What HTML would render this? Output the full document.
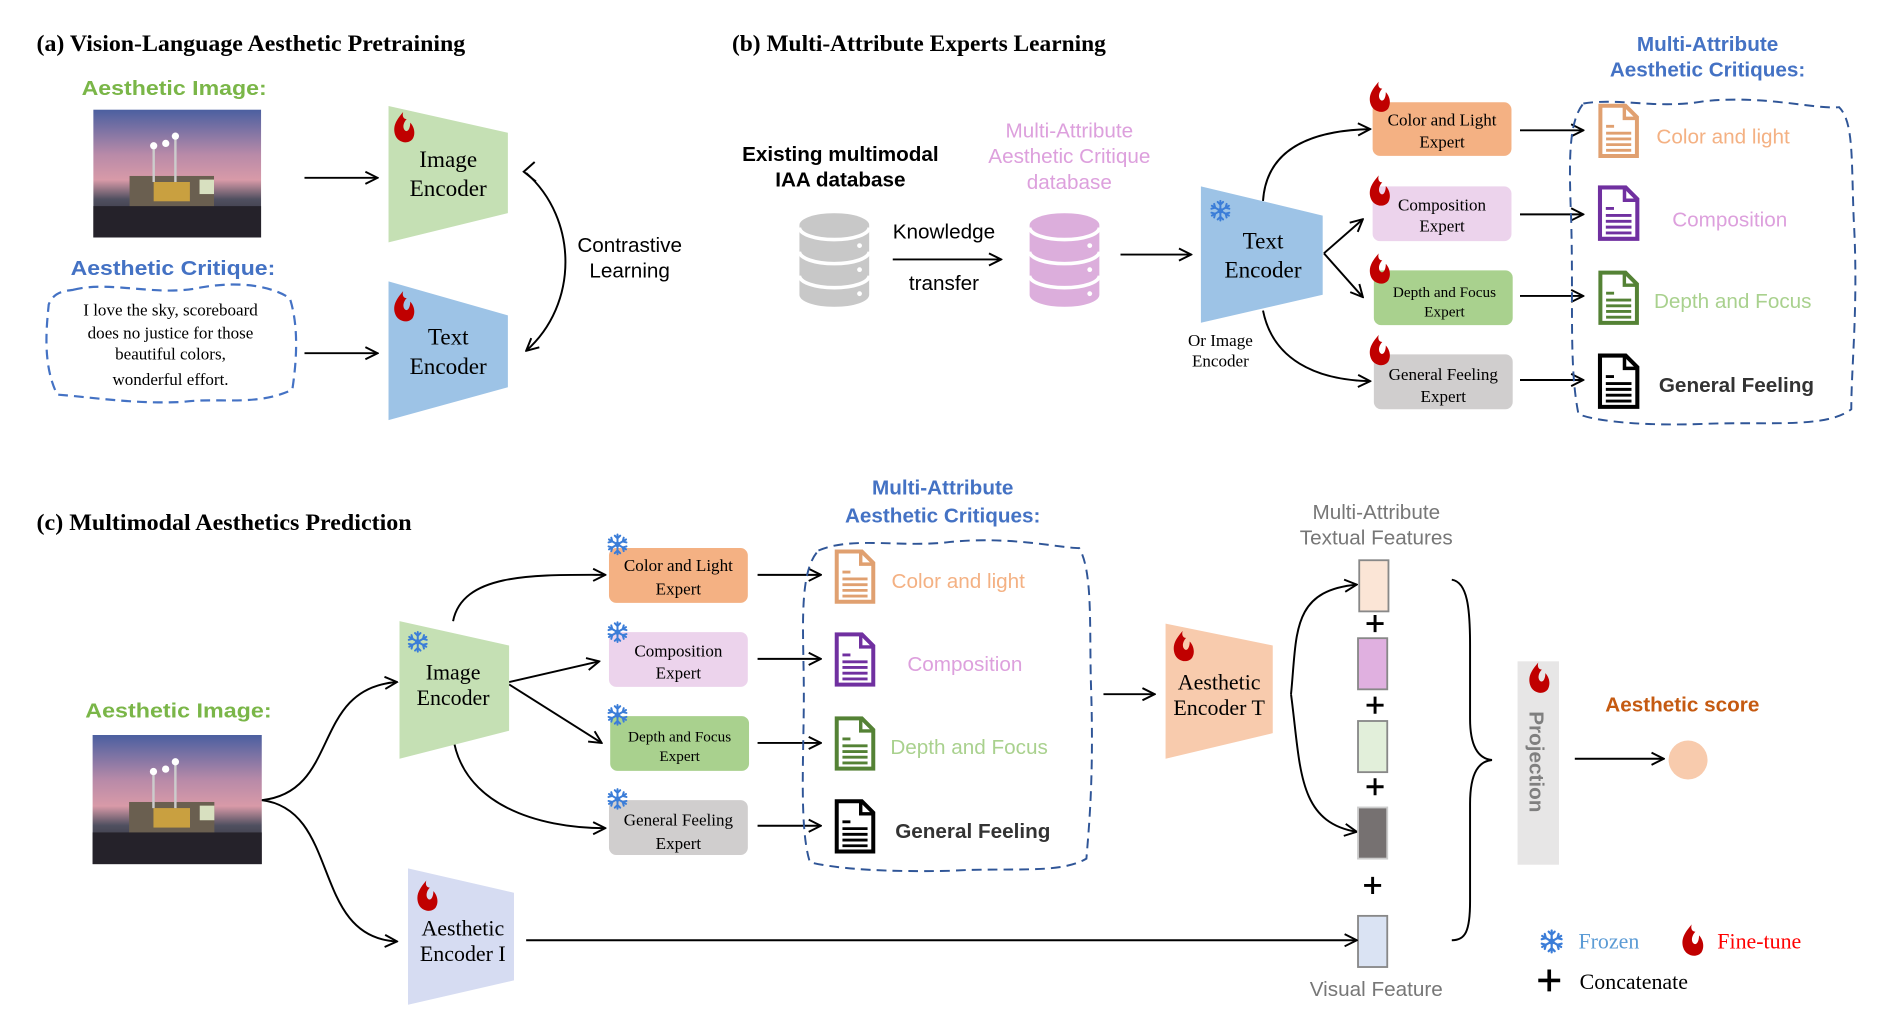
<!DOCTYPE html>
<html><head><meta charset="utf-8"><style>
html,body{margin:0;padding:0;background:#fff;}
svg{display:block;}
.t{font-family:"Liberation Serif",serif;}
.h{font-family:"Liberation Sans","DejaVu Sans",sans-serif;}
</style></head><body>
<svg width="1900" height="1034" viewBox="0 0 1560 849" preserveAspectRatio="none" xmlns="http://www.w3.org/2000/svg">
<defs>
<marker id="ar" viewBox="0 0 12 12" refX="11" refY="6" markerWidth="12" markerHeight="12" markerUnits="userSpaceOnUse" orient="auto">
<path d="M1,1 L11,6 L1,11" fill="none" stroke="#000" stroke-width="1.6"/></marker>
<symbol id="fl" viewBox="0 0 20 28"><path d="M9,0 C3,7 0,12 2,19 C4,26 13,28 17,23 C20,18 18,12 15,9 C15,14 13,17 11,16 C8,14 9,9 12,6 C9,6 8,3 9,0Z" fill="#c00000"/></symbol>
<symbol id="sn" viewBox="-10 -10 20 20"><g stroke="#3b7dd8" stroke-width="1.8" stroke-linecap="round" fill="none">
<g id="br"><line x1="0" y1="0" x2="0" y2="-9"/><path d="M-2.5,-8 L0,-5.5 L2.5,-8"/></g>
<use href="#br" transform="rotate(60)"/><use href="#br" transform="rotate(120)"/><use href="#br" transform="rotate(180)"/><use href="#br" transform="rotate(240)"/><use href="#br" transform="rotate(300)"/></g><circle r="2.5" fill="#3b7dd8"/></symbol>
<linearGradient id="sky" x1="0" y1="0" x2="0" y2="1"><stop offset="0" stop-color="#4b5fa0"/><stop offset="0.35" stop-color="#b88aa8"/><stop offset="0.55" stop-color="#d89aa8"/><stop offset="0.7" stop-color="#505060"/><stop offset="1" stop-color="#1e1c22"/></linearGradient>
<symbol id="img" viewBox="0 0 139 106"><rect width="139" height="106" fill="url(#sky)"/><rect x="30" y="55" width="70" height="30" fill="#6a5f50"/><rect x="50" y="60" width="30" height="16" fill="#c9a040"/><rect x="88" y="58" width="12" height="12" fill="#d8e0c0"/><line x1="50" y1="30" x2="50" y2="60" stroke="#ccc" stroke-width="2"/><line x1="68" y1="22" x2="68" y2="60" stroke="#ccc" stroke-width="2"/><circle cx="50" cy="30" r="3" fill="#fff"/><circle cx="68" cy="22" r="3" fill="#fff"/><circle cx="60" cy="28" r="3" fill="#fff"/><rect x="0" y="80" width="139" height="26" fill="#25222a"/></symbol>
<symbol id="doc" viewBox="0 0 36 48"><path d="M2,2 H24 L34,12 V46 H2 Z" fill="#fff" stroke="currentColor" stroke-width="3.5"/><path d="M23,2 V13 H34" fill="none" stroke="currentColor" stroke-width="3"/><g stroke="currentColor" stroke-width="2.5"><line x1="7" y1="20" x2="14" y2="20"/><line x1="7" y1="26" x2="29" y2="26"/><line x1="7" y1="31" x2="29" y2="31"/><line x1="7" y1="36" x2="29" y2="36"/><line x1="7" y1="41" x2="29" y2="41"/></g></symbol>
<symbol id="db" viewBox="0 0 58 78"><path d="M0,10 A29,10 0 0 1 58,10 V68 A29,10 0 0 1 0,68 Z" fill="currentColor"/><g fill="none" stroke="#fff" stroke-width="3"><path d="M0,12 A29,10 0 0 0 58,12"/><path d="M0,32 A29,10 0 0 0 58,32"/><path d="M0,52 A29,10 0 0 0 58,52"/></g><g fill="#fff"><circle cx="50" cy="27" r="2"/><circle cx="50" cy="47" r="2"/><circle cx="50" cy="67" r="2"/></g></symbol>
</defs>

<!-- (a) -->
<text x="30" y="42" class="t" font-size="19" font-weight="bold" textLength="352" lengthAdjust="spacingAndGlyphs">(a) Vision-Language Aesthetic Pretraining</text>
<text x="67" y="78" class="h" font-size="17" font-weight="bold" fill="#7ab648" textLength="152" lengthAdjust="spacingAndGlyphs">Aesthetic Image:</text>
<use href="#img" x="76" y="90" width="139" height="105"/>
<line x1="250" y1="146" x2="310" y2="146" stroke="#000" stroke-width="1.6" marker-end="url(#ar)"/>
<polygon points="319,87 417,109 417,175 319,199" fill="#c5e0b4"/>
<use href="#fl" x="322" y="92" width="20" height="27"/>
<text x="368" y="137" class="t" font-size="19" text-anchor="middle">Image</text>
<text x="368" y="161" class="t" font-size="19" text-anchor="middle">Encoder</text>
<text x="58" y="226" class="h" font-size="17" font-weight="bold" fill="#4472c4" textLength="168" lengthAdjust="spacingAndGlyphs">Aesthetic Critique:</text>
<path d="M60,238 C90,230 130,244 165,236 C200,230 225,236 238,245 C246,270 243,300 240,320 C210,334 180,326 150,330 C110,332 75,326 47,324 C35,300 38,270 40,250 C44,240 52,239 60,238Z" fill="none" stroke="#4472c4" stroke-width="1.8" stroke-dasharray="8 5"/>
<g class="t" font-size="14" text-anchor="middle"><text x="140" y="259">I love the sky,  scoreboard</text><text x="140" y="278">does no justice for those</text><text x="140" y="295">beautiful colors,</text><text x="140" y="316">wonderful effort.</text></g>
<line x1="250" y1="290" x2="310" y2="290" stroke="#000" stroke-width="1.6" marker-end="url(#ar)"/>
<polygon points="319,231 417,259 417,318 319,345" fill="#9dc3e6"/>
<use href="#fl" x="322" y="239" width="20" height="27"/>
<text x="368" y="283" class="t" font-size="19" text-anchor="middle">Text</text>
<text x="368" y="307" class="t" font-size="19" text-anchor="middle">Encoder</text>
<path d="M432,142 C475,180 475,250 432,288" fill="none" stroke="#000" stroke-width="1.6" marker-end="url(#ar)"/>
<path d="M439,133 L430,141 L440,149" fill="none" stroke="#000" stroke-width="1.6"/>
<text x="517" y="207" class="h" font-size="17" text-anchor="middle">Contrastive</text>
<text x="517" y="228" class="h" font-size="17" text-anchor="middle">Learning</text>

<!-- (b) -->
<text x="601" y="42" class="t" font-size="19" font-weight="bold" textLength="307" lengthAdjust="spacingAndGlyphs">(b) Multi-Attribute Experts Learning</text>
<text x="690" y="132" class="h" font-size="17" font-weight="bold" text-anchor="middle">Existing multimodal</text>
<text x="690" y="153" class="h" font-size="17" font-weight="bold" text-anchor="middle">IAA database</text>
<use href="#db" x="656" y="175" width="58" height="77" color="#c8c8c8"/>
<text x="775" y="196" class="h" font-size="17" text-anchor="middle">Knowledge</text>
<line x1="733" y1="213" x2="822" y2="213" stroke="#000" stroke-width="1.6" marker-end="url(#ar)"/>
<text x="775" y="238" class="h" font-size="17" text-anchor="middle">transfer</text>
<use href="#db" x="845" y="175" width="58" height="77" color="#dcaedc"/>
<g class="h" font-size="17" fill="#dda0dd" text-anchor="middle"><text x="878" y="113">Multi-Attribute</text><text x="878" y="134">Aesthetic Critique</text><text x="878" y="155">database</text></g>
<line x1="920" y1="209" x2="978" y2="209" stroke="#000" stroke-width="1.6" marker-end="url(#ar)"/>
<polygon points="986,153 1086,177 1086,242 986,265" fill="#9dc3e6"/>
<use href="#sn" x="993" y="164" width="18" height="18"/>
<text x="1037" y="204" class="t" font-size="19" text-anchor="middle">Text</text>
<text x="1037" y="228" class="t" font-size="19" text-anchor="middle">Encoder</text>
<text x="1002" y="284" class="t" font-size="14" text-anchor="middle">Or Image</text>
<text x="1002" y="301" class="t" font-size="14" text-anchor="middle">Encoder</text>
<g fill="none" stroke="#000" stroke-width="1.6" marker-end="url(#ar)">
<path d="M1037,165 C1040,120 1080,107 1125,106"/>
<path d="M1087,208 L1119,180"/>
<path d="M1087,208 L1119,244"/>
<path d="M1037,255 C1045,295 1080,312 1125,313"/>
</g>
<g class="t" font-size="14" text-anchor="middle">
<rect x="1127" y="84" width="114" height="44" rx="6" fill="#f4b183"/><text x="1184" y="103">Color and Light</text><text x="1184" y="121">Expert</text>
<rect x="1127" y="153" width="114" height="45" rx="6" fill="#ecd3ec"/><text x="1184" y="173">Composition</text><text x="1184" y="190">Expert</text>
<rect x="1128" y="222" width="114" height="45" rx="6" fill="#a9d18e"/><text x="1186" y="244" font-size="12.5">Depth and Focus</text><text x="1186" y="260" font-size="12.5">Expert</text>
<rect x="1128" y="291" width="114" height="45" rx="6" fill="#d0cece"/><text x="1185" y="312">General Feeling</text><text x="1185" y="330">Expert</text>
</g>
<use href="#fl" x="1123" y="67" width="20" height="27"/>
<use href="#fl" x="1123" y="144" width="20" height="27"/>
<use href="#fl" x="1123" y="208" width="20" height="27"/>
<use href="#fl" x="1123" y="275" width="20" height="27"/>
<g stroke="#000" stroke-width="1.6" marker-end="url(#ar)"><line x1="1248" y1="107" x2="1300" y2="107"/><line x1="1248" y1="176" x2="1300" y2="176"/><line x1="1248" y1="243" x2="1300" y2="243"/><line x1="1248" y1="312" x2="1300" y2="312"/></g>
<path d="M1300,85 C1330,80 1360,90 1400,83 C1450,78 1490,90 1510,88 C1522,100 1520,130 1522,180 C1526,250 1520,300 1520,336 C1500,352 1450,346 1400,348 C1350,350 1310,346 1296,340 C1288,300 1292,250 1290,180 C1288,130 1288,100 1300,85Z" fill="none" stroke="#2f5597" stroke-width="1.6" stroke-dasharray="8 5"/>
<g class="h" font-size="17" font-weight="bold" fill="#4472c4" text-anchor="middle"><text x="1402" y="42">Multi-Attribute</text><text x="1402" y="63">Aesthetic Critiques:</text></g>
<use href="#doc" x="1311" y="85" width="36" height="45" color="#e0a070"/>
<use href="#doc" x="1311" y="152" width="36" height="46" color="#7030a0"/>
<use href="#doc" x="1311" y="222" width="36" height="45" color="#548235"/>
<use href="#doc" x="1311" y="290" width="36" height="46" color="#000"/>
<g class="h" font-size="17">
<text x="1360" y="118" fill="#f4b183">Color and light</text>
<text x="1373" y="186" fill="#dda0dd">Composition</text>
<text x="1358" y="253" fill="#a9d18e">Depth and Focus</text>
<text x="1362" y="322" fill="#333" font-weight="bold">General Feeling</text>
</g>

<!-- (c) -->
<text x="30" y="435" class="t" font-size="19" font-weight="bold" textLength="308" lengthAdjust="spacingAndGlyphs">(c) Multimodal Aesthetics Prediction</text>
<text x="70" y="589" class="h" font-size="17" font-weight="bold" fill="#7ab648" textLength="153" lengthAdjust="spacingAndGlyphs">Aesthetic Image:</text>
<use href="#img" x="76" y="603" width="139" height="107"/>
<g fill="none" stroke="#000" stroke-width="1.6" marker-end="url(#ar)">
<path d="M215,657 C280,650 255,565 326,560"/>
<path d="M215,657 C280,665 255,770 326,773"/>
<path d="M372,510 C380,470 440,472 497,472"/>
<path d="M418,560 L492,543"/>
<path d="M418,562 L494,610"/>
<path d="M372,605 C380,660 440,680 497,680"/>
</g>
<polygon points="328,510 418,530 418,600 328,623" fill="#c5e0b4"/>
<use href="#sn" x="334" y="518" width="18" height="18"/>
<text x="372" y="558" class="t" font-size="18" text-anchor="middle">Image</text>
<text x="372" y="579" class="t" font-size="18" text-anchor="middle">Encoder</text>
<g class="t" font-size="14" text-anchor="middle">
<rect x="500" y="450" width="114" height="45" rx="6" fill="#f4b183"/><text x="557" y="469">Color and Light</text><text x="557" y="488">Expert</text>
<rect x="500" y="519" width="114" height="45" rx="6" fill="#ecd3ec"/><text x="557" y="539">Composition</text><text x="557" y="557">Expert</text>
<rect x="501" y="588" width="114" height="45" rx="6" fill="#a9d18e"/><text x="558" y="609" font-size="12.5">Depth and Focus</text><text x="558" y="625" font-size="12.5">Expert</text>
<rect x="500" y="657" width="114" height="45" rx="6" fill="#d0cece"/><text x="557" y="678">General Feeling</text><text x="557" y="697">Expert</text>
</g>
<use href="#sn" x="498" y="438" width="18" height="18"/>
<use href="#sn" x="498" y="510" width="18" height="18"/>
<use href="#sn" x="498" y="578" width="18" height="18"/>
<use href="#sn" x="498" y="647" width="18" height="18"/>
<g stroke="#000" stroke-width="1.6" marker-end="url(#ar)"><line x1="622" y1="472" x2="674" y2="472"/><line x1="622" y1="541" x2="674" y2="541"/><line x1="622" y1="610" x2="674" y2="610"/><line x1="622" y1="678" x2="674" y2="678"/></g>
<path d="M672,452 C700,440 740,450 780,445 C830,440 870,450 886,450 C898,470 894,520 896,570 C898,640 894,680 892,705 C870,718 830,712 780,715 C730,716 690,714 665,708 C656,680 660,620 660,570 C660,520 655,470 672,452Z" fill="none" stroke="#2f5597" stroke-width="1.6" stroke-dasharray="8 5"/>
<g class="h" font-size="17" font-weight="bold" fill="#4472c4" text-anchor="middle"><text x="774" y="406">Multi-Attribute</text><text x="774" y="429">Aesthetic Critiques:</text></g>
<use href="#doc" x="685" y="451" width="34" height="45" color="#e0a070"/>
<use href="#doc" x="685" y="519" width="34" height="45" color="#7030a0"/>
<use href="#doc" x="685" y="588" width="34" height="45" color="#548235"/>
<use href="#doc" x="685" y="656" width="34" height="45" color="#000"/>
<g class="h" font-size="17">
<text x="732" y="483" fill="#f4b183">Color and light</text>
<text x="745" y="551" fill="#dda0dd">Composition</text>
<text x="731" y="619" fill="#a9d18e">Depth and Focus</text>
<text x="735" y="688" fill="#333" font-weight="bold">General Feeling</text>
</g>
<line x1="906" y1="570" x2="948" y2="570" stroke="#000" stroke-width="1.6" marker-end="url(#ar)"/>
<polygon points="957,512 1045,530 1045,602 957,623" fill="#f8cbad"/>
<use href="#fl" x="962" y="518" width="20" height="27"/>
<text x="1001" y="566" class="t" font-size="18" text-anchor="middle">Aesthetic</text>
<text x="1001" y="587" class="t" font-size="18" text-anchor="middle">Encoder T</text>
<g fill="none" stroke="#000" stroke-width="1.6" marker-end="url(#ar)">
<path d="M1060,570 C1065,520 1060,485 1114,480"/>
<path d="M1060,570 C1068,630 1065,675 1114,683"/>
</g>
<g class="h" font-size="17" fill="#777" text-anchor="middle"><text x="1130" y="426">Multi-Attribute</text><text x="1130" y="447">Textual Features</text><text x="1130" y="818">Visual Feature</text></g>
<g stroke="#888" stroke-width="1.5">
<rect x="1116" y="460" width="24" height="42" fill="#fbe5d6"/>
<rect x="1115" y="524" width="24" height="42" fill="#e0b0e0"/>
<rect x="1115" y="592" width="24" height="42" fill="#e2efda"/>
<rect x="1115" y="663" width="24" height="42" fill="#767171" stroke="#ccc"/>
<rect x="1115" y="752" width="24" height="42" fill="#dae3f3"/>
</g>
<g stroke="#000" stroke-width="2.4"><path d="M1122,512 h14 M1129,505 v14"/><path d="M1122,579 h14 M1129,572 v14"/><path d="M1122,646 h14 M1129,639 v14"/><path d="M1120,727 h14 M1127,720 v14"/></g>
<polygon points="335,713 422,733 422,805 335,825" fill="#d6dcf2"/>
<use href="#fl" x="341" y="723" width="20" height="27"/>
<text x="380" y="768" class="t" font-size="18" text-anchor="middle">Aesthetic</text>
<text x="380" y="789" class="t" font-size="18" text-anchor="middle">Encoder I</text>
<line x1="432" y1="772" x2="1114" y2="772" stroke="#000" stroke-width="1.6" marker-end="url(#ar)"/>
<path d="M1192,476 C1205,478 1207,500 1207,530 L1207,590 C1207,615 1215,623 1225,624 C1215,625 1207,633 1207,660 L1207,740 C1207,765 1203,772 1192,772" fill="none" stroke="#000" stroke-width="1.6"/>
<rect x="1246" y="543" width="34" height="167" fill="#e7e6e6"/>
<use href="#fl" x="1254" y="544" width="20" height="27"/>
<text transform="translate(1256,584) rotate(90)" class="h" font-size="17" font-weight="bold" fill="#7f7f7f">Projection</text>
<line x1="1293" y1="623" x2="1366" y2="623" stroke="#000" stroke-width="1.6" marker-end="url(#ar)"/>
<circle cx="1386" cy="624" r="16" fill="#f8cbad"/>
<text x="1318" y="584" class="h" font-size="17" font-weight="bold" fill="#c55a11">Aesthetic score</text>
<use href="#sn" x="1264" y="763" width="20" height="20"/>
<text x="1296" y="779" class="t" font-size="18" fill="#5b9bd5">Frozen</text>
<use href="#fl" x="1380" y="759" width="20" height="28"/>
<text x="1410" y="779" class="t" font-size="18" fill="#ff0000">Fine-tune</text>
<path d="M1263,805 h18 M1272,796 v18" stroke="#000" stroke-width="3"/>
<text x="1297" y="812" class="t" font-size="18">Concatenate</text>
</svg>
</body></html>
